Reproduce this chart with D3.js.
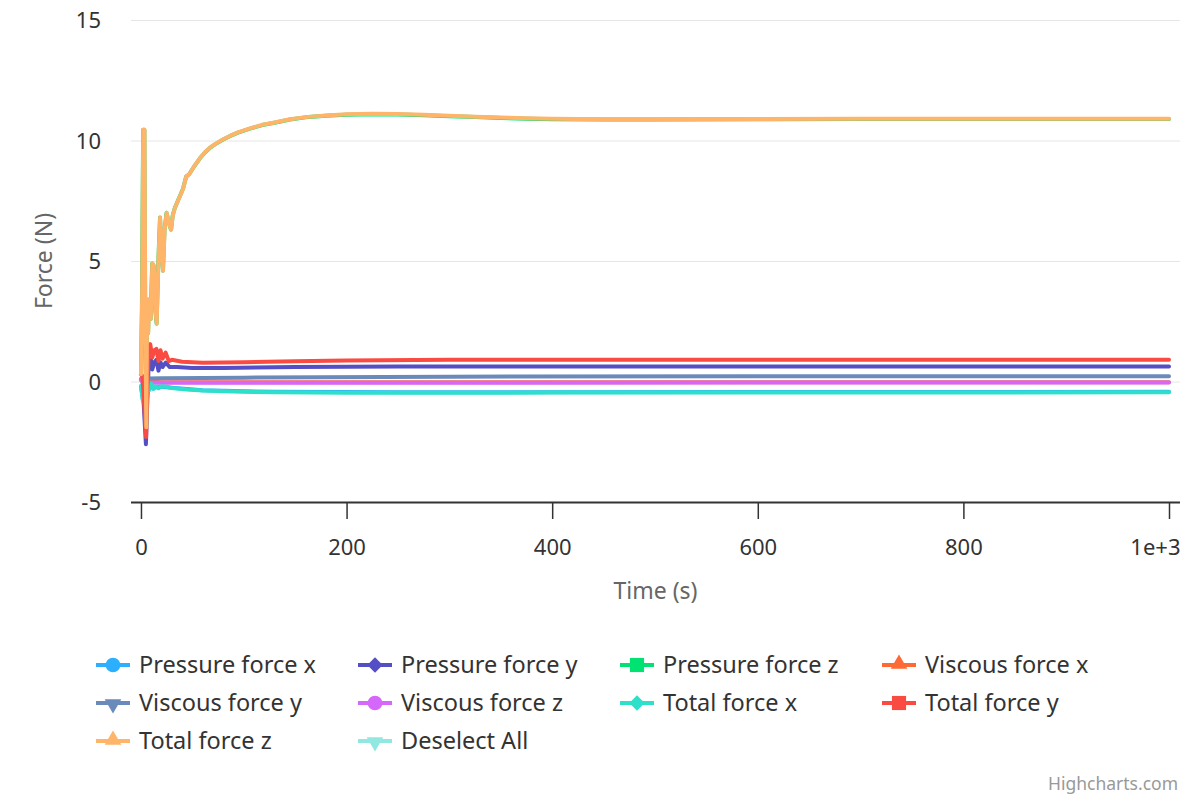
<!DOCTYPE html>
<html>
<head>
<meta charset="utf-8">
<script src="https://cdn.jsdelivr.net/npm/d3@7"></script>
<style>
  body { margin: 0; background: #fff; }
  svg { font-family: "Segoe UI", "Noto Sans", sans-serif; }
</style>
</head>
<body>
<div id="graphicContainer"></div>
<script>

// series as [time (s), force (N)]
const pressureX = [[0,-0.2],[1,-0.5],[2,-0.8],[3,-0.4],[5,-0.3],[8,-0.33],[10,-0.12],[12,-0.3],[15,-0.22],[20,-0.22],[30,-0.26],[60,-0.36],[130,-0.43],[250,-0.45],[1000,-0.43]]
const pressureY = [[0,0.1],[1.5,0.05],[3,-1.2],[4.8,-2.6],[6,-1.0],[7.5,0.7],[9,1.1],[11,0.5],[13,0.8],[15,0.9],[17,0.45],[19,0.8],[21,0.6],[24,0.78],[28,0.6],[35,0.6],[50,0.56],[80,0.56],[150,0.6],[250,0.62],[1000,0.62]]
const pressureZ = [[0,0.3],[0.9,3.1],[2.1,10.45],[3.3,10.45],[4.2,2.0],[5.1,-1.9],[5.9,3.4],[6.9,2.0],[7.9,3.4],[9.4,2.6],[10.9,4.9],[12.4,4.8],[13.9,3.0],[15.2,2.4],[16.9,5.0],[18.5,6.8],[19.9,5.5],[21.4,4.6],[22.9,6.3],[24.9,7.0],[26.9,6.6],[29.2,6.3],[30.9,6.9],[32.9,7.2],[35.9,7.5],[37.9,7.7],[40.9,8.0],[43.9,8.5],[46.9,8.6],[52,8.94],[57,9.24],[62,9.49],[67,9.69],[72,9.84],[80,10.04],[87,10.19],[95,10.34],[106,10.49],[118,10.64],[130,10.74],[145,10.87],[160,10.96],[180,11.03],[200,11.07],[225,11.09],[250,11.08],[275,11.05],[300,11.01],[325,10.97],[350,10.93],[375,10.9],[400,10.88],[450,10.87],[500,10.87],[600,10.88],[700,10.89],[1000,10.89]]
const viscousX = [[0,0.1],[3,-0.1],[6,0.0],[20,-0.03],[100,-0.03],[1000,-0.03]]
const viscousY = [[0,0.3],[3,0.1],[6,0.12],[20,0.13],[100,0.16],[300,0.2],[600,0.22],[1000,0.22]]
const viscousZ = [[0,0.05],[4,-0.02],[10,-0.05],[100,-0.05],[1000,-0.04]]
const totalX = [[0,-0.2],[1,-0.5],[2,-0.85],[3,-0.4],[4,-0.3],[6,-0.25],[8,-0.35],[10,-0.1],[12,-0.3],[14,-0.2],[17,-0.28],[20,-0.2],[25,-0.22],[30,-0.27],[45,-0.33],[60,-0.37],[90,-0.42],[130,-0.45],[200,-0.47],[400,-0.46],[1000,-0.45]]
const totalY = [[0,0.3],[1.5,0.2],[3.2,-1.0],[5,-2.3],[6,-0.5],[7.5,1.2],[9,1.55],[11,1.0],[13,1.3],[15,1.35],[17,0.85],[19,1.3],[21,0.95],[24,1.2],[27,0.85],[30,0.9],[40,0.82],[60,0.78],[100,0.8],[150,0.84],[200,0.87],[300,0.9],[1000,0.9]]
const totalZ = [[0,0.3],[1,3.0],[2.2,10.45],[3.4,10.45],[4.3,2.0],[5.2,-1.9],[6,3.4],[7,2.0],[8,3.4],[9.5,2.6],[11,4.9],[12.5,4.8],[14,3.0],[15.3,2.4],[17,5.0],[18.6,6.8],[20,5.5],[21.5,4.6],[23,6.3],[25,7.0],[27,6.6],[29.3,6.3],[31,6.9],[33,7.2],[36,7.5],[38,7.7],[41,8.0],[44,8.5],[47,8.6],[52,8.95],[57,9.25],[62,9.5],[67,9.7],[72,9.85],[80,10.05],[87,10.2],[95,10.35],[106,10.5],[118,10.65],[130,10.75],[145,10.88],[160,10.97],[180,11.04],[200,11.09],[225,11.11],[250,11.1],[275,11.07],[300,11.03],[325,10.99],[350,10.95],[375,10.92],[400,10.9],[450,10.88],[500,10.88],[600,10.89],[700,10.9],[1000,10.9]]

const seriesNames = ["Pressure force x", "Pressure force y", "Pressure force z", "Viscous force x", "Viscous force y", "Viscous force z", "Total force x", "Total force y", "Total force z", "Deselect All"]
const seriesData = [pressureX, pressureY, pressureZ, viscousX, viscousY, viscousZ, totalX, totalY, totalZ, []]
const seriesColors = ["#2caffe", "#544fc5", "#00e272", "#fe6a35", "#6b8abc", "#d568fb", "#2ee0ca", "#fa4b42", "#feb56a", "#91e8e1"]
const seriesSymbols = ["circle", "diamond", "square", "triangle", "triangle-down", "circle", "diamond", "square", "triangle", "triangle-down"]

const yTicks = [-5, 0, 5, 10, 15]
const xTicks = [0, 200, 400, 600, 800, 1000]
const xTickLabels = ["0", "200", "400", "600", "800", "1e+3"]

const width = 1200
const height = 800
const plotLeft = 131
const plotRight = 1180
const plotTop = 20
const plotBottom = 502

const svg = d3.select("#graphicContainer")
  .append("svg")
  .attr("width", width)
  .attr("height", height)

const x = d3.scaleLinear()
  .domain([-9.7, 1010.7])
  .range([plotLeft, plotRight])

const y = d3.scaleLinear()
  .domain([-5, 15])
  .range([plotBottom, plotTop])

// grid
svg.append("g")
  .selectAll("line")
  .data(yTicks.filter(d => d > -5))
  .enter()
  .append("line")
  .attr("x1", plotLeft)
  .attr("x2", plotRight)
  .attr("y1", d => y(d) + 0.5)
  .attr("y2", d => y(d) + 0.5)
  .style("stroke", "#e6e6e6")
  .style("stroke-width", 1)

// y axis labels
svg.append("g")
  .selectAll("text")
  .data(yTicks)
  .enter()
  .append("text")
  .attr("x", 101)
  .attr("y", d => y(d) + 8)
  .attr("text-anchor", "end")
  .style("font-size", "22px")
  .style("fill", "#333")
  .text(d => d)

svg.append("text")
  .attr("transform", `translate(52,${(plotTop + plotBottom) / 2}) rotate(-90)`)
  .attr("text-anchor", "middle")
  .style("font-size", "23px")
  .style("fill", "#666")
  .text("Force (N)")

// x axis
const xAxis = svg.append("g")
  .attr("transform", `translate(0,${plotBottom})`)
  .call(d3.axisBottom(x)
    .tickValues(xTicks)
    .tickSize(17)
    .tickSizeOuter(0)
    .tickPadding(20)
    .tickFormat((d, i) => xTickLabels[i]))

xAxis.select(".domain")
  .attr("d", `M${plotLeft},0.5H${plotRight}`)
  .style("stroke", "#333")
  .style("stroke-width", 2)

xAxis.selectAll(".tick line")
  .style("stroke", "#333")
  .style("stroke-width", 1.5)

xAxis.selectAll(".tick text")
  .style("font-size", "22px")
  .style("fill", "#333")
  .style("font-family", "'Segoe UI', 'Noto Sans', sans-serif")
  .attr("text-anchor", (d, i) => i == xTicks.length - 1 ? "end" : "middle")
  .attr("dx", (d, i) => i == xTicks.length - 1 ? 11 : 0)

svg.append("text")
  .attr("x", (plotLeft + plotRight) / 2)
  .attr("y", 599)
  .attr("text-anchor", "middle")
  .style("font-size", "23px")
  .style("fill", "#666")
  .text("Time (s)")

// lines
svg.append("defs")
  .append("clipPath")
  .attr("id", "plotClip")
  .append("rect")
  .attr("x", plotLeft)
  .attr("y", plotTop - 5)
  .attr("width", plotRight - plotLeft)
  .attr("height", plotBottom - plotTop + 5)

const line = d3.line()
  .x(d => x(d[0]))
  .y(d => y(d[1]))

svg.append("g")
  .attr("clip-path", "url(#plotClip)")
  .selectAll("path")
  .data(seriesData)
  .enter()
  .append("path")
  .attr("d", d => d.length ? line(d) : null)
  .style("fill", "none")
  .style("stroke", (d, i) => seriesColors[i])
  .style("stroke-width", 4)
  .style("stroke-linejoin", "round")
  .style("stroke-linecap", "round")

// legend
const symbolTypes = {
  "circle": d3.symbolCircle,
  "diamond": d3.symbolDiamond2,
  "square": d3.symbolSquare,
  "triangle": d3.symbolTriangle,
  "triangle-down": d3.symbolTriangle
}

const legend = svg.append("g")

seriesNames.forEach((name, i) => {

  const col = i % 4
  const row = Math.floor(i / 4)
  const lx = 96 + col * 262
  const ly = 665 + row * 38

  const item = legend.append("g")
    .attr("transform", `translate(${lx},${ly})`)

  item.append("line")
    .attr("x1", 0)
    .attr("x2", 34)
    .attr("y1", 0)
    .attr("y2", 0)
    .style("stroke", seriesColors[i])
    .style("stroke-width", 4)

  const sym = seriesSymbols[i]
  const size = sym == "circle" ? 170 : sym == "diamond" ? 150 : sym.startsWith("triangle") ? 120 : 200

  item.append("path")
    .attr("d", d3.symbol().type(symbolTypes[sym]).size(size)())
    .attr("transform", `translate(17,${sym == "triangle-down" ? 1 : sym == "triangle" ? -1 : 0})` + (sym == "triangle-down" ? " rotate(180)" : ""))
    .style("fill", seriesColors[i])

  item.append("text")
    .attr("x", 43)
    .attr("y", 8)
    .style("font-size", "23.5px")
    .style("fill", "#333")
    .text(name)

})

svg.append("text")
  .attr("x", 1178)
  .attr("y", 790)
  .attr("text-anchor", "end")
  .style("font-size", "17.5px")
  .style("fill", "#999")
  .text("Highcharts.com")

</script>
</body>
</html>
